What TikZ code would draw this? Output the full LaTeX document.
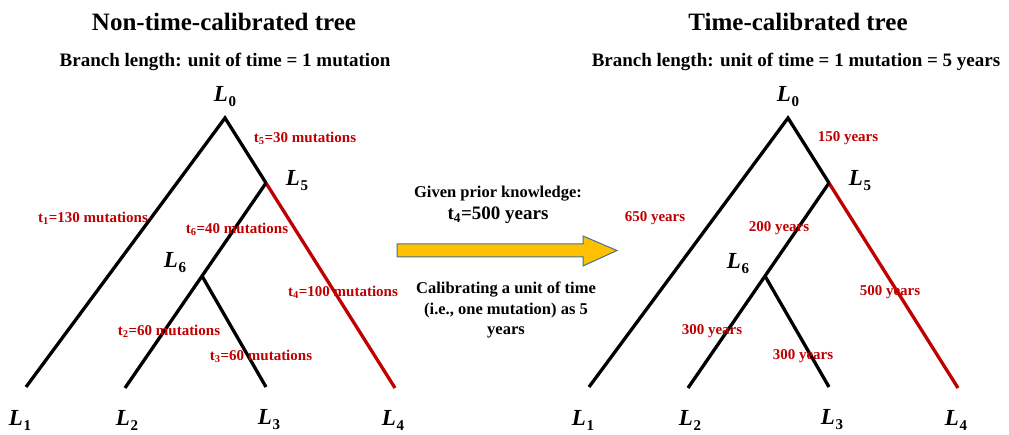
\documentclass[tikz,border=0pt]{standalone}
\usepackage{fontspec}
\setmainfont{Liberation Serif}
\definecolor{tred}{HTML}{C00000}
\definecolor{arrowfill}{HTML}{FFC000}
\definecolor{arrowedge}{HTML}{41719C}
\begin{document}
\begin{tikzpicture}[x=1pt,y=-1pt,
  branch/.style={line width=3.3pt, draw=black},
  redbranch/.style={line width=3.3pt, draw=tred},
  brlab/.style={text=tred, font=\fontsize{15}{17}\selectfont\bfseries, inner sep=0pt},
  leaflab/.style={font=\fontsize{23}{25}\selectfont\bfseries, inner sep=0pt},
  titlelab/.style={font=\fontsize{25}{28}\selectfont\bfseries, inner sep=0pt},
  sublab/.style={font=\fontsize{19}{22}\selectfont\bfseries, inner sep=0pt},
  midlab/.style={font=\fontsize{16.5}{20.5}\selectfont\bfseries, inner sep=0pt, align=center}]
\useasboundingbox (0,0) rectangle (1009,435);
\newcommand{\Lab}[1]{\textit{L}\kern0.5pt\raisebox{-5pt}{\fontsize{15}{15}\selectfont #1}}
% ---------- left tree ----------
\coordinate (a0) at (225,118);
\coordinate (a5) at (266,183);
\coordinate (a6) at (202,276);
\coordinate (a1) at (26,387);
\coordinate (a2) at (125,388);
\coordinate (a3) at (266,387);
\coordinate (a4) at (395,388);
\draw[branch] (a1) -- (a0) -- (a5);
\draw[redbranch] (a5) -- (a4);
\draw[branch] (a5) -- (a2);
\draw[branch] (a6) -- (a3);
\node[titlelab] (titleA) at (224,22) {Non-time-calibrated tree};
\node[sublab] (subA) at (225,62) {Branch length: unit of time = 1 mutation};
\node[leaflab] (La0) at (225,97) {\Lab{0}};
\node[leaflab] (La5) at (297,181) {\Lab{5}};
\node[leaflab] (La6) at (175,263) {\Lab{6}};
\node[leaflab] (La1) at (20,420) {\Lab{1}};
\node[leaflab] (La2) at (127,420) {\Lab{2}};
\node[leaflab] (La3) at (269,420) {\Lab{3}};
\node[leaflab] (La4) at (393,420) {\Lab{4}};
\node[brlab] (ta5) at (305,138) {t\textsubscript{5}=30 mutations};
\node[brlab] (ta1) at (93,218) {t\textsubscript{1}=130 mutations};
\node[brlab] (ta6) at (237,229) {t\textsubscript{6}=40 mutations};
\node[brlab] (ta4) at (343,292) {t\textsubscript{4}=100 mutations};
\node[brlab] (ta2) at (169,331) {t\textsubscript{2}=60 mutations};
\node[brlab] (ta3) at (261,356) {t\textsubscript{3}=60 mutations};
% ---------- arrow ----------
\filldraw[fill=arrowfill, draw=arrowedge, line width=1pt]
  (397,244) -- (583,244) -- (583,236) -- (617,250.5) -- (583,266) -- (583,257) -- (397,257) -- cycle;
\node[midlab] (given) at (498,194) {Given prior knowledge:};
\node[font=\fontsize{19}{22}\selectfont\bfseries, inner sep=0pt] (t4val) at (498,215) {t\textsubscript{4}=500 years};
\node[midlab] (calib) at (506,310) {Calibrating a unit of time\\(i.e., one mutation) as 5\\years};
% ---------- right tree ----------
\coordinate (b0) at (788,118);
\coordinate (b5) at (829,183);
\coordinate (b6) at (765,276);
\coordinate (b1) at (589,387);
\coordinate (b2) at (688,388);
\coordinate (b3) at (829,387);
\coordinate (b4) at (958,388);
\draw[branch] (b1) -- (b0) -- (b5);
\draw[redbranch] (b5) -- (b4);
\draw[branch] (b5) -- (b2);
\draw[branch] (b6) -- (b3);
\node[titlelab] (titleB) at (798,22) {Time-calibrated tree};
\node[sublab] (subB) at (796,62) {Branch length: unit of time = 1 mutation = 5 years};
\node[leaflab] (Lb0) at (788,97) {\Lab{0}};
\node[leaflab] (Lb5) at (860,181) {\Lab{5}};
\node[leaflab] (Lb6) at (738,264) {\Lab{6}};
\node[leaflab] (Lb1) at (583,420) {\Lab{1}};
\node[leaflab] (Lb2) at (690,420) {\Lab{2}};
\node[leaflab] (Lb3) at (832,420) {\Lab{3}};
\node[leaflab] (Lb4) at (956,420) {\Lab{4}};
\node[brlab] (tb5) at (848,138) {150 years};
\node[brlab] (tb1) at (655,218) {650 years};
\node[brlab] (tb6) at (779,228) {200 years};
\node[brlab] (tb4) at (890,292) {500 years};
\node[brlab] (tb2) at (712,331) {300 years};
\node[brlab] (tb3) at (803,356) {300 years};
\end{tikzpicture}
\end{document}
